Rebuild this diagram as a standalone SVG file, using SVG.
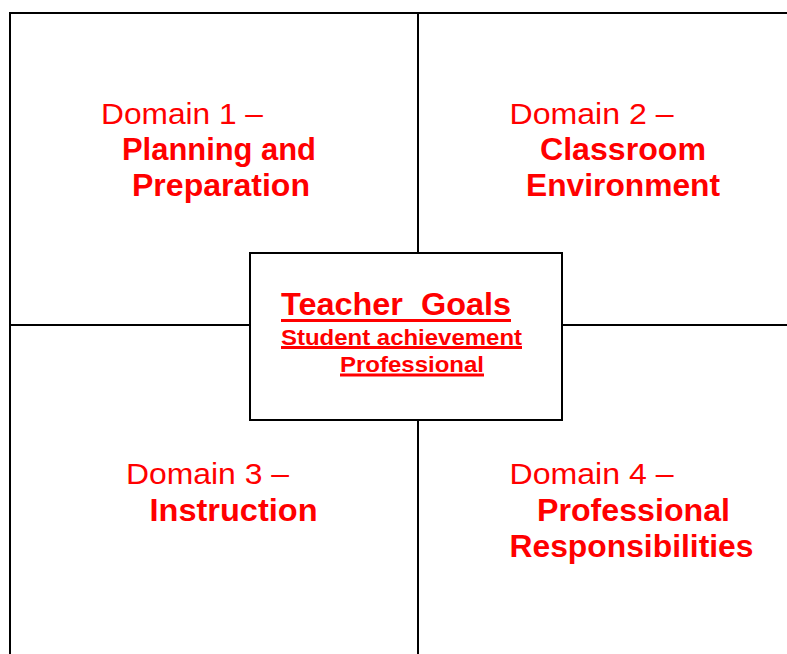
<svg xmlns="http://www.w3.org/2000/svg" width="787" height="654" viewBox="0 0 787 654">
  <style>
    .rule { stroke: #000; stroke-width: 2; fill: none; }
    .box { stroke: #000; stroke-width: 2; fill: #fff; }
    .lbl { font-family: "Liberation Sans", Arial, sans-serif; fill: #ff0000; font-size: 30px; }
    .b { font-weight: bold; font-size: 31px; }
    .sub { font-size: 22px; }
    .ul { stroke: #ff0000; stroke-width: 3; }
  </style>
  <rect width="787" height="654" fill="#fff"/>

  <!-- quadrant frame -->
  <g id="connectors">
    <line class="rule" x1="9" y1="13" x2="787" y2="13"/>
    <line class="rule" x1="10" y1="12" x2="10" y2="654"/>
    <line class="rule" x1="418" y1="13" x2="418" y2="654"/>
    <line class="rule" x1="10" y1="325" x2="787" y2="325"/>
  </g>

  <g id="domain1">
    <text class="lbl" x="101" y="124" textLength="162" lengthAdjust="spacingAndGlyphs">Domain 1 –</text>
    <text class="lbl b" x="122" y="160" textLength="194" lengthAdjust="spacingAndGlyphs">Planning and</text>
    <text class="lbl b" x="132" y="196" textLength="178" lengthAdjust="spacingAndGlyphs">Preparation</text>
  </g>

  <g id="domain2">
    <text class="lbl" x="509.5" y="124" textLength="164" lengthAdjust="spacingAndGlyphs">Domain 2 –</text>
    <text class="lbl b" x="540" y="160" textLength="166" lengthAdjust="spacingAndGlyphs">Classroom</text>
    <text class="lbl b" x="526" y="196" textLength="194" lengthAdjust="spacingAndGlyphs">Environment</text>
  </g>

  <g id="domain3">
    <text class="lbl" x="126" y="484" textLength="163" lengthAdjust="spacingAndGlyphs">Domain 3 –</text>
    <text class="lbl b" x="149.5" y="521" textLength="168" lengthAdjust="spacingAndGlyphs">Instruction</text>
  </g>

  <g id="domain4">
    <text class="lbl" x="509.5" y="484" textLength="164" lengthAdjust="spacingAndGlyphs">Domain 4 –</text>
    <text class="lbl b" x="537" y="521" textLength="193" lengthAdjust="spacingAndGlyphs">Professional</text>
    <text class="lbl b" x="509.5" y="557" textLength="244" lengthAdjust="spacingAndGlyphs">Responsibilities</text>
  </g>

  <g id="teacher-goals">
    <rect class="box" x="250" y="253" width="312" height="167"/>
    <text class="lbl b" x="281" y="315" textLength="230" lengthAdjust="spacingAndGlyphs" xml:space="preserve">Teacher  Goals</text>
    <line class="ul" x1="281" y1="320.5" x2="511" y2="320.5"/>
    <text class="lbl b sub" x="281" y="344.5" textLength="241" lengthAdjust="spacingAndGlyphs">Student achievement</text>
    <line class="ul" x1="281" y1="347.5" x2="522" y2="347.5"/>
    <text class="lbl b sub" x="340" y="371.5" textLength="144" lengthAdjust="spacingAndGlyphs">Professional</text>
    <line class="ul" x1="340" y1="375" x2="484" y2="375"/>
  </g>
</svg>
